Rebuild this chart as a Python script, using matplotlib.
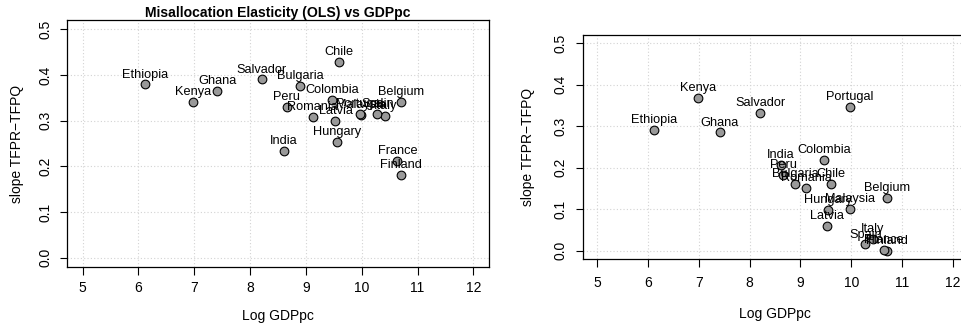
import matplotlib

matplotlib.use("Agg")
import matplotlib.pyplot as plt

plt.rcParams["font.family"] = ["Liberation Sans", "DejaVu Sans"]

countries = [
    "Belgium", "Bulgaria", "Chile", "Colombia", "Ethiopia", "Finland", "France",
    "Ghana", "Hungary", "India", "Italy", "Kenya", "Latvia", "Malaysia", "Peru",
    "Portugal", "Romania", "Salvador", "Spain",
]
log_gdppc = [
    10.71, 8.90, 9.60, 9.47, 6.12, 10.71, 10.64,
    7.41, 9.55, 8.61, 10.42, 6.98, 9.53, 9.98, 8.66,
    9.97, 9.12, 8.21, 10.28,
]
# OLS slope of TFPR on TFPQ
slope_ols = [
    0.340, 0.375, 0.429, 0.346, 0.379, 0.182, 0.212,
    0.365, 0.254, 0.233, 0.310, 0.341, 0.299, 0.313, 0.329,
    0.315, 0.308, 0.390, 0.314,
]
# second estimate, same countries
slope_alt = [
    0.128, 0.161, 0.161, 0.219, 0.292, 0.000, 0.002,
    0.285, 0.099, 0.206, 0.029, 0.368, 0.059, 0.100, 0.183,
    0.346, 0.151, 0.333, 0.015,
]

W, H = 962, 326


def px_axes(fig, x0, y0, x1, y1):
    """Axes from pixel box (top-left origin)."""
    return fig.add_axes([x0 / W, 1 - y1 / H, (x1 - x0) / W, (y1 - y0) / H])


def scatter_panel(ax, x, y, labels, xpad, ypad, xlab_y, ylab_x, title=None):
    ax.set_xlim(4.72, 12.28)
    ax.set_ylim(-0.02, 0.52)
    ax.set_xticks(range(5, 13))
    ax.set_yticks([0.0, 0.1, 0.2, 0.3, 0.4, 0.5])
    ax.set_yticklabels(["0.0", "0.1", "0.2", "0.3", "0.4", "0.5"], rotation=90, va="center")
    ax.grid(True, color="#d3d3d3", linestyle=(0, (1, 2)), linewidth=0.8)
    ax.set_axisbelow(True)
    ax.tick_params(direction="out", length=5.4, width=0.8, labelsize=10)
    ax.tick_params(axis="x", pad=xpad)
    ax.tick_params(axis="y", pad=ypad)
    for sp in ax.spines.values():
        sp.set_linewidth(0.9)
    ax.scatter(x, y, s=39, facecolor="#999999", edgecolor="black", linewidth=0.8, zorder=3)
    for xi, yi, lab in zip(x, y, labels):
        ax.annotate(lab, (xi, yi), xytext=(0, 5), textcoords="offset points",
                    ha="center", va="baseline", fontsize=9.2, zorder=4)
    ax.set_xlabel("Log GDPpc", fontsize=10)
    ax.set_ylabel("slope TFPR\u2212TFPQ", fontsize=10)
    ax.xaxis.set_label_coords(0.5, xlab_y)
    ax.yaxis.set_label_coords(ylab_x, 0.5)
    if title:
        ax.set_title(title, fontsize=10.1, fontweight="bold", pad=2)


fig = plt.figure(figsize=(W / 100, H / 100), dpi=100)
ax1 = px_axes(fig, 67, 20, 489, 267)
ax2 = px_axes(fig, 583, 35, 967, 259)

scatter_panel(ax1, log_gdppc, slope_ols, countries, 4.9, 5.0, -0.171, -0.102,
              "Misallocation Elasticity (OLS) vs GDPpc")
scatter_panel(ax2, log_gdppc, slope_alt, countries, 6.8, 5.8, -0.215, -0.126)

fig.savefig("out.png", dpi=100)
